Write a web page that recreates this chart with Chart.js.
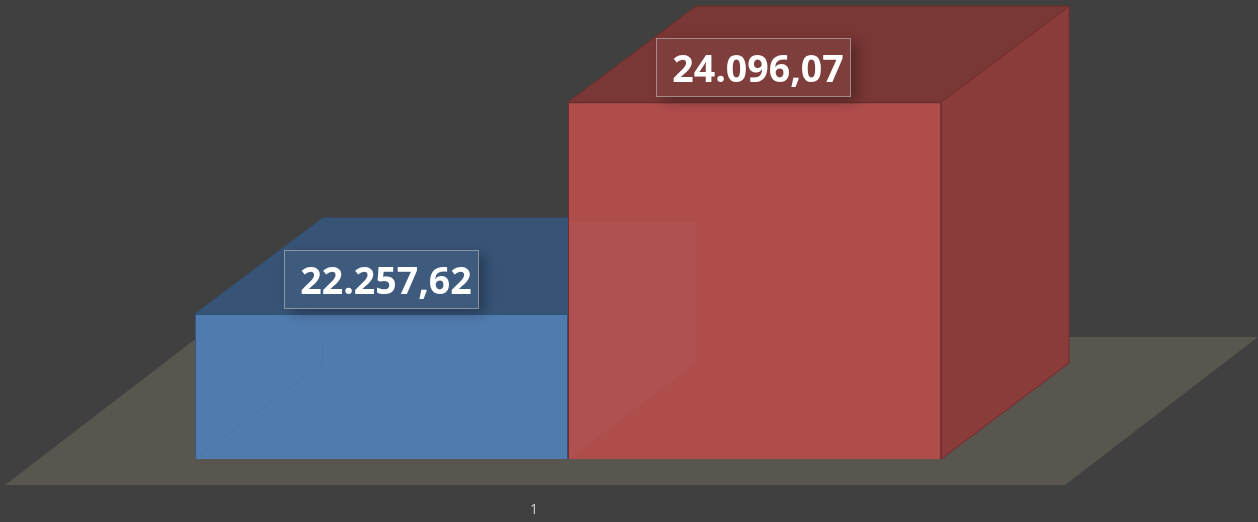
<!DOCTYPE html>
<html>
<head>
<meta charset="utf-8">
<title>Chart</title>
<script src="https://cdn.jsdelivr.net/npm/chart.js@4"></script>
<style>
  html, body { margin: 0; padding: 0; background: #404040; }
  #wrap { width: 1258px; height: 522px; }
</style>
</head>
<body>
<div id="wrap"><canvas id="chart" width="1258" height="522"></canvas></div>
<script>
const categories = ["1"];
const blueValues = [22257.62];
const redValues = [24096.07];
const axisMin = 21000;
const axisMax = 25000;

// looks of the two boxes
const boxStyles = [
  { front: "#507bae", top: "#375477", side: "#3f6089", edge: "#2f5279", labelShift: 0 },
  { front: "#af4d4b", top: "#793735", side: "#893c3a", edge: "#742d2b", labelShift: -2 },
];

// offsets of the 3D projection, in pixels
const floorDepth = { x: 193, y: -148 };
const frontOffset = { x: 33, y: -26 };
const boxDepth = { x: 128, y: -96 };

const polygon = (ctx, points, fill, stroke) => {
  ctx.beginPath();
  points.forEach((p, i) => (i ? ctx.lineTo(p[0], p[1]) : ctx.moveTo(p[0], p[1])));
  ctx.closePath();
  if (fill) {
    ctx.fillStyle = fill;
    ctx.fill();
  }
  if (stroke) {
    ctx.strokeStyle = stroke;
    ctx.lineWidth = 1;
    ctx.stroke();
  }
};

// front rectangle of a box on screen, taken from the bar element
const frontRect = (bar) => ({
  left: bar.x - bar.width / 2 + frontOffset.x,
  right: bar.x + bar.width / 2 + frontOffset.x,
  top: bar.y + frontOffset.y,
  bottom: bar.base + frontOffset.y,
});

const drawLabel = (ctx, bar, text, shift) => {
  const r = frontRect(bar);
  const w = 194;
  const h = 58;
  const x = Math.round((r.left + r.right) / 2 - w / 2) + 0.5 + shift;
  const y = Math.round(r.top - 35 - h / 2) + 0.5;

  // shadow falls only outside of the box
  ctx.save();
  ctx.beginPath();
  ctx.rect(0, 0, ctx.canvas.width, ctx.canvas.height);
  ctx.rect(x, y, w, h);
  ctx.clip("evenodd");
  ctx.shadowColor = "rgba(0,0,0,0.3)";
  ctx.shadowBlur = 12;
  ctx.shadowOffsetX = 6;
  ctx.shadowOffsetY = 4;
  ctx.fillStyle = "#000";
  ctx.fillRect(x, y, w, h);
  ctx.restore();

  ctx.fillStyle = "rgba(255,255,255,0.04)";
  ctx.fillRect(x, y, w, h);
  ctx.strokeStyle = "rgba(255,255,255,0.45)";
  ctx.lineWidth = 1;
  ctx.strokeRect(x, y, w, h);

  ctx.fillStyle = "#ffffff";
  ctx.font = "700 37.5px 'Open Sans'";
  ctx.textAlign = "center";
  ctx.textBaseline = "middle";
  ctx.fillText(text, x + w / 2 + 4.5, y + h / 2 + 4);
};

const drawBox = (chart, index) => {
  const ctx = chart.ctx;
  const style = boxStyles[index];
  const meta = chart.getDatasetMeta(index);
  const r = frontRect(meta.data[0]);
  const d = boxDepth;
  polygon(ctx, [
    [r.right, r.top],
    [r.right + d.x, r.top + d.y],
    [r.right + d.x, r.bottom + d.y],
    [r.right, r.bottom],
  ], style.side, style.edge);
  polygon(ctx, [
    [r.left, r.top],
    [r.left + d.x, r.top + d.y],
    [r.right + d.x, r.top + d.y],
    [r.right, r.top],
  ], style.top, style.edge);
  ctx.save();
  ctx.translate(frontOffset.x, frontOffset.y);
  meta.controller.draw();
  ctx.restore();
};

const box3d = {
  id: "box3d",
  beforeDatasetsDraw(chart) {
    const a = chart.chartArea;
    polygon(chart.ctx, [
      [a.left, a.bottom],
      [a.right, a.bottom],
      [a.right + floorDepth.x, a.bottom + floorDepth.y],
      [a.left + floorDepth.x, a.bottom + floorDepth.y],
    ], "#58564e");
  },
  // the library would paint the first dataset last, so boxes are painted below
  beforeDatasetDraw() {
    return false;
  },
  afterDatasetsDraw(chart) {
    const ctx = chart.ctx;
    const d = boxDepth;

    drawBox(chart, 0);
    const b = frontRect(chart.getDatasetMeta(0).data[0]);
    // back edges shining through the blue front
    ctx.save();
    ctx.strokeStyle = "rgba(60,100,150,0.22)";
    ctx.lineWidth = 1;
    ctx.beginPath();
    ctx.moveTo(b.left, b.bottom);
    ctx.lineTo(b.left + d.x, b.bottom + d.y);
    ctx.lineTo(b.left + d.x, b.bottom + d.y - 18);
    ctx.stroke();
    ctx.restore();

    drawBox(chart, 1);
    // blue side face shining through the red front
    polygon(ctx, [
      [b.right + 1, b.bottom],
      [b.right + d.x, b.bottom + d.y],
      [b.right + d.x, b.top + d.y + 4],
      [b.right + 1, b.top + d.y + 4],
    ], "rgba(150,150,170,0.05)");

    const fmt = new Intl.NumberFormat("de-DE", { minimumFractionDigits: 2, maximumFractionDigits: 2 });
    chart.data.datasets.forEach((ds, i) => {
      drawLabel(ctx, chart.getDatasetMeta(i).data[0], fmt.format(ds.data[0]), boxStyles[i].labelShift);
    });
  },
};

new Chart(document.getElementById("chart"), {
  type: "bar",
  data: {
    labels: categories,
    datasets: [
      {
        data: blueValues,
        base: axisMin,
        backgroundColor: boxStyles[0].front,
        borderColor: boxStyles[0].edge,
        borderWidth: 1,
      },
      {
        data: redValues,
        base: axisMin,
        backgroundColor: boxStyles[1].front,
        borderColor: boxStyles[1].edge,
        borderWidth: 1,
      },
    ],
  },
  options: {
    responsive: false,
    animation: false,
    events: [],
    layout: { padding: { left: 5, right: 193, top: 24, bottom: 0 } },
    datasets: { bar: { categoryPercentage: 0.704, barPercentage: 1 } },
    plugins: { legend: { display: false }, tooltip: { enabled: false }, title: { display: false } },
    scales: {
      x: {
        grid: { display: false },
        border: { display: false },
        afterFit: (scale) => { scale.height = 37; },
        ticks: {
          color: "#d0d0d0",
          padding: 9,
          labelOffset: -1,
          font: { family: "'Open Sans'", size: 14 },
        },
      },
      y: { display: false, min: axisMin, max: axisMax },
    },
  },
  plugins: [box3d],
});
</script>
</body>
</html>
